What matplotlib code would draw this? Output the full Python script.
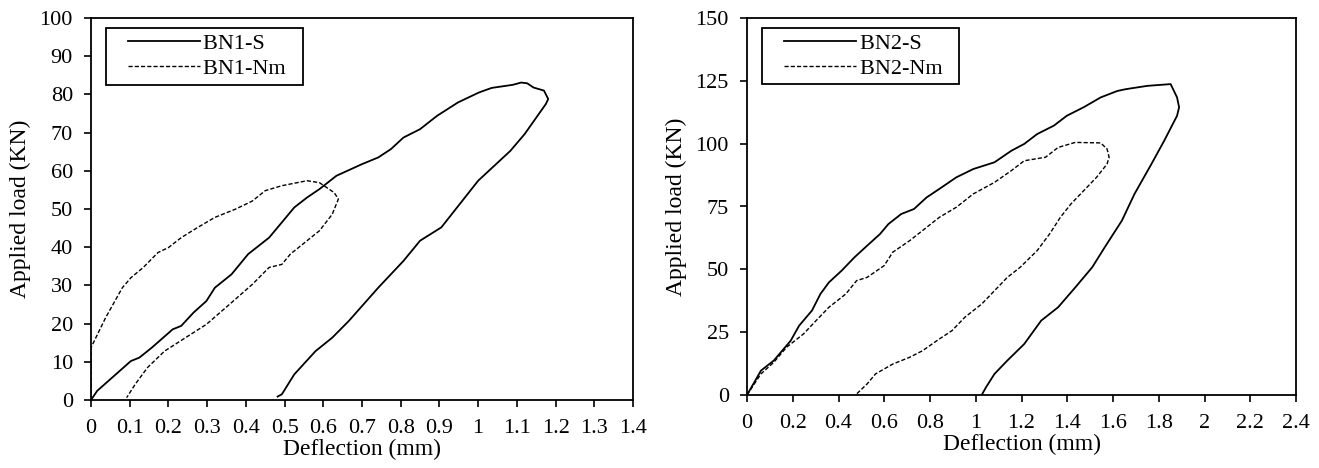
import numpy as np
import matplotlib
matplotlib.use('Agg')
import matplotlib.pyplot as plt
from matplotlib.legend_handler import HandlerLine2D

plt.rcParams['font.family'] = ['Liberation Serif', 'DejaVu Serif']
plt.rcParams['font.size'] = 16

# BN1 - deflection (mm) / load (KN)
bn1s_x = [0, 0.016, 0.103, 0.125, 0.157, 0.211, 0.233, 0.265, 0.298, 0.32, 0.363,
          0.406, 0.46, 0.493, 0.525, 0.558, 0.59, 0.634, 0.699, 0.742, 0.775,
          0.807, 0.85, 0.894, 0.948, 1.002, 1.035, 1.089, 1.111, 1.127, 1.143,
          1.17, 1.181, 1.175, 1.12, 1.083, 1.0, 0.905, 0.85, 0.807, 0.742,
          0.666, 0.623, 0.58, 0.525, 0.493, 0.482]
bn1s_y = [0, 2.4, 10.2, 11.1, 13.7, 18.5, 19.4, 22.9, 25.9, 29.4, 32.9,
          38.2, 42.5, 46.5, 50.4, 53.0, 55.2, 58.7, 61.7, 63.5, 65.7,
          68.7, 70.9, 74.4, 77.9, 80.5, 81.7, 82.5, 83.1, 82.9, 81.8,
          81.0, 78.8, 77.5, 69.6, 65.2, 57.4, 45.2, 41.7, 36.4, 29.4,
          20.7, 16.3, 12.8, 6.7, 1.5, 0.9]
bn1n_x = [0, 0.0, 0.038, 0.081, 0.103, 0.135, 0.173, 0.2, 0.233, 0.276, 0.32,
          0.374, 0.417, 0.45, 0.493, 0.558, 0.59, 0.628, 0.639, 0.623, 0.59,
          0.547, 0.515, 0.493, 0.46, 0.417, 0.363, 0.298, 0.244, 0.19, 0.146,
          0.114, 0.092]
bn1n_y = [0, 13.7, 21.6, 29.4, 32.0, 34.7, 38.6, 39.9, 42.5, 45.2, 47.8,
          50.0, 52.1, 54.8, 56.1, 57.4, 56.9, 54.3, 52.6, 48.6, 44.3,
          40.8, 38.2, 35.5, 34.7, 30.3, 25.5, 19.8, 16.3, 12.8, 8.5,
          4.1, 0.6]

# BN2
bn2s_x = [0, 0.061, 0.117, 0.191, 0.228, 0.284, 0.321, 0.358, 0.414, 0.47, 0.525,
          0.581, 0.618, 0.674, 0.73, 0.785, 0.841, 0.915, 0.989, 1.082, 1.156,
          1.212, 1.268, 1.342, 1.398, 1.472, 1.546, 1.62, 1.657, 1.75, 1.852,
          1.88, 1.889, 1.88, 1.824, 1.768, 1.694, 1.639, 1.564, 1.509, 1.435,
          1.36, 1.286, 1.212, 1.138, 1.082, 1.045, 1.026]
bn2s_y = [0, 9.7, 13.7, 21.6, 27.6, 33.6, 40.2, 44.8, 49.5, 54.8, 59.4,
          64.0, 68.0, 72.0, 74.0, 78.6, 82.0, 86.6, 89.9, 92.6, 97.2,
          99.9, 103.8, 107.2, 111.1, 114.5, 118.4, 121.0, 121.7, 123.0, 123.7,
          118.4, 114.5, 111.1, 101.2, 91.9, 80.0, 69.4, 58.8, 50.8, 42.8,
          34.9, 29.6, 20.3, 13.7, 8.4, 3.1, 0]
bn2n_x = [0, 0.061, 0.117, 0.173, 0.247, 0.302, 0.358, 0.432, 0.479, 0.525, 0.6,
          0.637, 0.711, 0.767, 0.841, 0.915, 0.989, 1.082, 1.156, 1.212, 1.305,
          1.36, 1.435, 1.546, 1.574, 1.583, 1.574, 1.528, 1.472, 1.416, 1.37,
          1.323, 1.268, 1.194, 1.138, 1.082, 1.026, 0.952, 0.896, 0.841, 0.767,
          0.711, 0.637, 0.562, 0.525, 0.479]
bn2n_y = [0, 8.4, 13.0, 19.0, 24.3, 29.6, 34.9, 40.2, 45.5, 46.8, 51.5,
          56.8, 61.4, 65.4, 70.7, 74.7, 80.0, 84.6, 89.3, 93.2, 94.6,
          98.5, 100.5, 100.3, 97.9, 94.6, 91.9, 86.6, 81.3, 76.0, 70.7,
          64.1, 57.4, 50.8, 46.8, 41.5, 36.2, 30.9, 25.6, 22.3, 17.6,
          15.0, 12.3, 8.4, 4.4, 0.4]

panels = [
    (bn1s_x, bn1s_y, bn1n_x, bn1n_y, 'BN1-S', 'BN1-Nm',
     np.arange(0, 1.41, 0.1), 1.4, np.arange(0, 101, 10), 100,
     [91/1319, 1 - 400/468, 542/1319, 382/468]),
    (bn2s_x, bn2s_y, bn2n_x, bn2n_y, 'BN2-S', 'BN2-Nm',
     np.arange(0, 2.41, 0.2), 2.4, np.arange(0, 151, 25), 150,
     [747/1319, 1 - 395/468, 549/1319, 377/468]),
]

fig = plt.figure(figsize=(13.19, 4.68), dpi=100)
for sx, sy, nx, ny, ls, ln, xt, xm, yt, ym, pos in panels:
    ax = fig.add_axes(pos)
    ax.plot(sx, sy, 'k-', lw=1.3, label=ls + '  ')
    ax.plot(nx, ny, 'k--', lw=1.0, dashes=(3, 1.5), label=ln + '  ')
    ax.set_xlim(0, xm)
    ax.set_ylim(0, ym)
    ax.set_xticks(xt)
    ax.set_xticklabels(['%g' % round(v, 1) for v in xt])
    ax.set_yticks(yt)
    ax.set_xlabel('Deflection (mm)', labelpad=0, fontsize=17)
    ax.set_ylabel('Applied load (KN)', labelpad=6, fontsize=17)
    ax.tick_params(direction='out', length=5, width=1.2)
    ax.tick_params(axis='x', pad=9)
    ax.tick_params(axis='y', pad=8)
    for s in ax.spines.values():
        s.set_linewidth(1.3)
    leg = ax.legend(loc='upper left', bbox_to_anchor=(0.027, 0.974),
                    borderaxespad=0, fancybox=False, edgecolor='black',
                    framealpha=1, handlelength=4.0, handletextpad=0.15,
                    labelspacing=0.2, borderpad=0.25, fontsize=16,
                    handler_map={plt.Line2D: HandlerLine2D(xpad=0.75)})
    leg.get_frame().set_linewidth(1.3)

fig.savefig('out.png', dpi=100)
